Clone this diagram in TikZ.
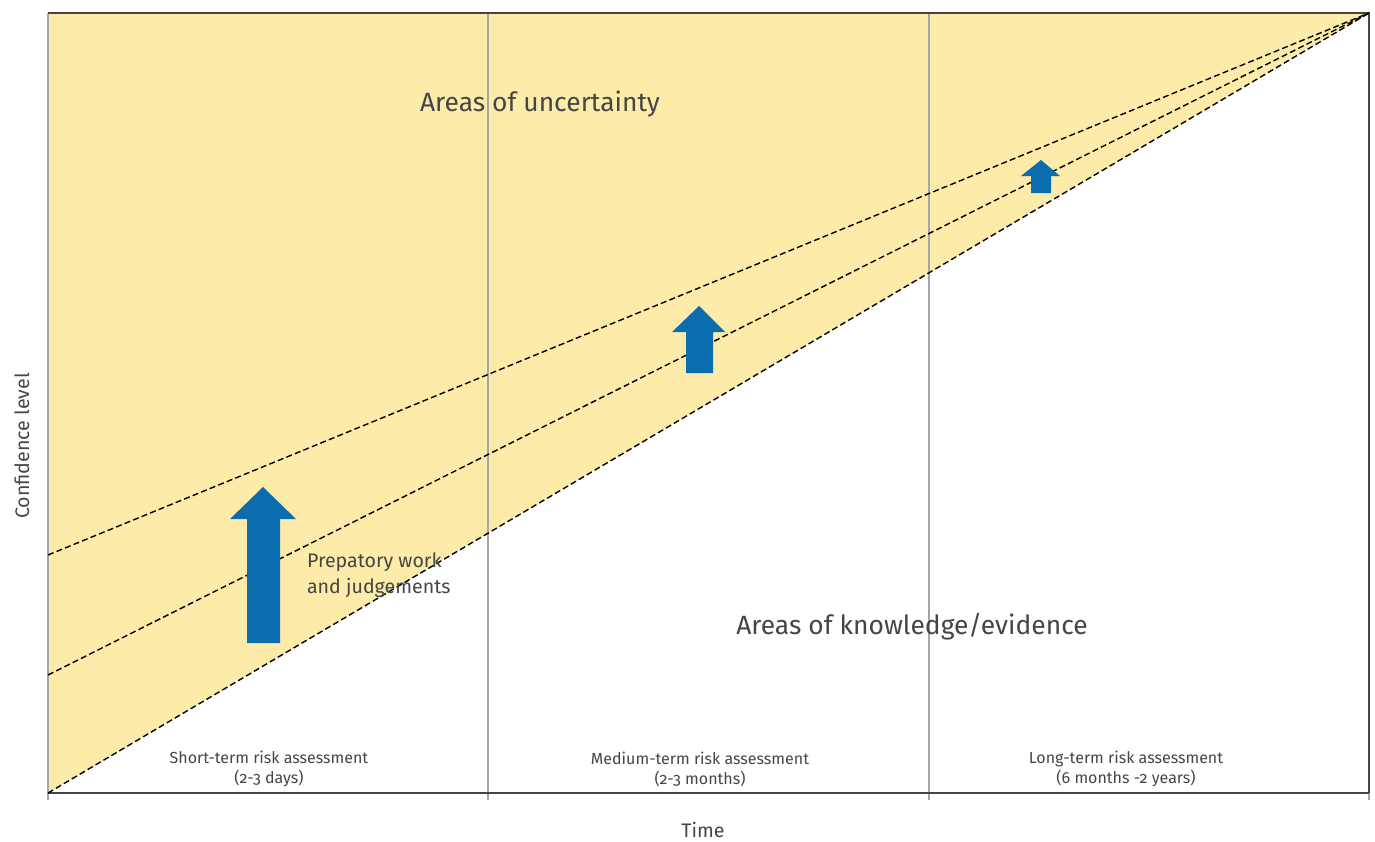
\documentclass[tikz,border=0pt]{standalone}
\usepackage{fontspec}
\setmainfont[Numbers=OldStyle]{Fira Sans}
\usepackage{xcolor}
\usetikzlibrary{positioning}
\definecolor{sand}{HTML}{FCEBA9}
\definecolor{riskblue}{HTML}{0B6DAE}
\definecolor{ink}{HTML}{454545}
\tikzstyle{grid} = [draw=black!35, line width=0.6pt]
\tikzstyle{frame} = [draw=ink, line width=1.4pt]
\tikzstyle{trend} = [draw=black, line width=0.7pt, dash pattern=on 3pt off 1.6pt]
\tikzstyle{uparrow} = [fill=riskblue, draw=none]
\tikzstyle{label} = [text=ink, font=\fontsize{8}{10}\selectfont, align=center]

\begin{document}
\begin{tikzpicture}[x=0.5pt, y=-0.5pt]
	\useasboundingbox (0,0) rectangle (1375,841);
	% corners and ends of the trend lines
	\coordinate (o)    at (48,793);
	\coordinate (mid)  at (48,675);
	\coordinate (high) at (48,555);
	\coordinate (top)  at (48,13);
	\coordinate (apex) at (1369,13);
	\coordinate (end)  at (1369,793);
	% uncertainty area
	\fill[sand] (o) -- (top) -- (apex) -- cycle;
	% time bands
	\foreach \x in {488,929} {
		\draw[grid] (\x,13) -- (\x,800);
	}
	\foreach \x in {48,1369} {
		\draw[grid] (\x,793) -- (\x,800);
	}
	\draw[grid, line width=0.9pt] (top) -- (o);
	\draw[frame] (top) -- (apex) -- (end);
	\draw[frame] (o) -- (end);
	% trend lines
	\path[trend]
	(o)    edge (apex)
	(mid)  edge (apex)
	(high) edge (apex);
	% arrows
	\fill[uparrow] (247,643) -- (247,519) -- (230,519) -- (263,487) -- (296,519) -- (280,519) -- (280,643) -- cycle;
	\fill[uparrow] (686,373) -- (686,332) -- (672,332) -- (699,306) -- (725,332) -- (713,332) -- (713,373) -- cycle;
	\fill[uparrow] (1031,193) -- (1031,176) -- (1021,176) -- (1041,160) -- (1060,176) -- (1051,176) -- (1051,193) -- cycle;
	% texts
	\node[label, font=\fontsize{13.2}{15}\selectfont] (unc)  at (540,104) {Areas of uncertainty};
	\node[label, font=\fontsize{13.2}{15}\selectfont] (know) at (912,627) {Areas of knowledge/evidence};
	\node[label, font=\fontsize{9.8}{12.8}\selectfont, align=left, anchor=west] (prep) at (300,575) {Prepatory work\\and judgements};
	\node[label] (short)  at (269,769) {Short-term risk assessment\\(2-3 days)};
	\node[label] (medium) at (700,769) {Medium-term risk assessment\\(2-3 months)};
	\node[label] (long)   at (1126,769) {Long-term risk assessment\\(6 months -2 years)};
	\node[label, font=\fontsize{9.8}{12}\selectfont] (time) at (703,830) {Time};
	\node[label, font=\fontsize{9.8}{12}\selectfont, rotate=90] (conf) at (22,446) {Confidence level};
\end{tikzpicture}
\end{document}
